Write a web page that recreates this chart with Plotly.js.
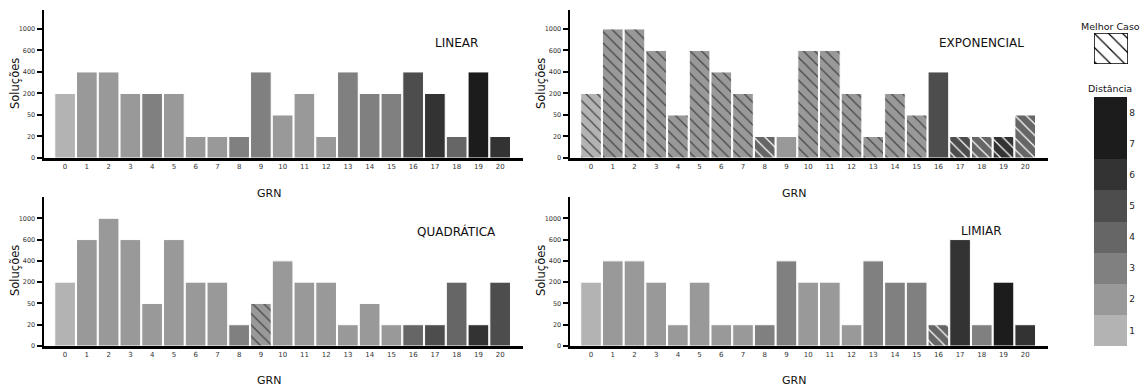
<!DOCTYPE html>
<html>
<head>
<meta charset="utf-8">
<script src="https://cdn.plot.ly/plotly-3.0.1.min.js"></script>
<style>html,body{margin:0;padding:0;background:#fff}#chart{width:1146px;height:388px}</style>
</head>
<body>
<div id="chart"></div>
<script>
// ---- data ----
const grn = [0,1,2,3,4,5,6,7,8,9,10,11,12,13,14,15,16,17,18,19,20];
const levelValues = [0,20,50,200,400,600,1000];
const levelLabels = ['0','20','50','200','400','600','1000'];

const linearValues   = [200,400,400,200,200,200,20,20,20,400,50,200,20,400,200,200,400,200,20,400,20];
const linearDist     = [1,2,2,2,3,2,2,2,3,3,2,2,2,3,3,3,5,6,4,7,6];
const linearBest     = [0,0,0,0,0,0,0,0,0,0,0,0,0,0,0,0,0,0,0,0,0];

const expValues      = [200,1000,1000,600,50,600,400,200,20,20,600,600,200,20,200,50,400,20,20,20,50];
const expDist        = [1,2,2,2,2,2,2,2,4,2,2,2,2,2,2,2,5,5,4,6,4];
const expBest        = [1,1,1,1,1,1,1,1,1,0,1,1,1,1,1,1,0,1,1,1,1];

const quadValues     = [200,600,1000,600,50,600,200,200,20,50,400,200,200,20,50,20,20,20,200,20,200];
const quadDist       = [1,2,2,2,2,2,2,2,3,2,2,2,2,2,2,2,4,5,4,6,5];
const quadBest       = [0,0,0,0,0,0,0,0,0,1,0,0,0,0,0,0,0,0,0,0,0];

const limValues      = [200,400,400,200,20,200,20,20,20,400,200,200,20,400,200,200,20,600,20,200,20];
const limDist        = [1,2,2,2,2,2,2,2,3,3,2,2,2,3,3,3,4,6,3,7,6];
const limBest        = [0,0,0,0,0,0,0,0,0,0,0,0,0,0,0,0,1,0,0,0,0];

const distLabels = ['1','2','3','4','5','6','7','8'];
const distColors = ['#b3b3b3','#999999','#808080','#666666','#4d4d4d','#333333','#1c1c1c','#1c1c1c'];

const panelTitles = ['LINEAR','EXPONENCIAL','QUADRÁTICA','LIMIAR'];
// ---- end data ----

const FONT = 'DejaVu Sans, sans-serif';
const W = 1146, H = 388;
const px = x => x / W;
const py = y => 1 - y / H;

function barTrace(vals, dist, best, ax) {
  return {
    type: 'bar',
    x: grn,
    y: vals.map(v => levelValues.indexOf(v)),
    width: 0.95,
    xaxis: 'x' + ax, yaxis: 'y' + ax,
    marker: {
      color: dist.map(d => distColors[d - 1]),
      line: {color: '#ffffff', width: 1},
      pattern: {
        shape: best.map(b => b ? '\\' : ''),
        fillmode: 'overlay',
        fgcolor: '#000000',
        fgopacity: 1,
        size: 8,
        solidity: 0.15
      }
    },
    hoverinfo: 'x+y',
    showlegend: false
  };
}

const data = [
  barTrace(linearValues, linearDist, linearBest, ''),
  barTrace(expValues, expDist, expBest, '2'),
  barTrace(quadValues, quadDist, quadBest, '3'),
  barTrace(limValues, limDist, limBest, '4'),
  // legend swatch: "Melhor Caso"
  {
    type: 'bar', x: [0], y: [1], width: 1, xaxis: 'x5', yaxis: 'y5',
    marker: {color: '#ffffff', line: {color: '#000000', width: 1.5},
      pattern: {shape: '\\', fillmode: 'overlay', fgcolor: '#000000', fgopacity: 1, size: 10, solidity: 0.12}},
    hoverinfo: 'skip', showlegend: false
  },
  // colorbar: "Distância"
  {
    type: 'scatter', mode: 'markers', x: [null], y: [null], xaxis: 'x5', yaxis: 'y5',
    marker: {
      color: [1], cmin: 0.5, cmax: 8.5,
      colorscale: (function(){
        const cs = [];
        distColors.forEach((c, i) => { cs.push([i / 8, c]); cs.push([(i + 1) / 8, c]); });
        return cs;
      })(),
      showscale: true,
      colorbar: {
        x: px(1094), xanchor: 'left', xpad: 0, ypad: 0,
        y: py(221.5), yanchor: 'middle',
        len: 249 / H, lenmode: 'fraction',
        thickness: 33, thicknessmode: 'pixels',
        outlinewidth: 0,
        tickmode: 'array', tickvals: [1,2,3,4,5,6,7,8], ticktext: distLabels,
        ticks: '', tickfont: {family: FONT, size: 9, color: '#222'}
      }
    },
    hoverinfo: 'skip', showlegend: false
  }
];

const leftDom = [px(44), px(523)];
const rightDom = [px(570), px(1048)];
const topDom = [py(158), py(10)];
const botDom = [py(346), py(197)];

function xax(dom, anchor) {
  return {
    domain: dom, anchor: anchor, range: [-0.97, 21.05],
    tickmode: 'array', tickvals: grn, ticktext: grn.map(String),
    tickfont: {family: FONT, size: 7, color: '#333'},
    ticks: '', showline: true, linecolor: '#000', linewidth: 2.5,
    showgrid: false, zeroline: false, fixedrange: true
  };
}
function yax(dom, anchor, top) {
  return {
    domain: dom, anchor: anchor, range: [0, top],
    tickmode: 'array', tickvals: [0,1,2,3,4,5,6], ticktext: levelLabels,
    tickfont: {family: FONT, size: 6.5, color: '#333'},
    ticks: 'outside', ticklen: 5, tickwidth: 2, tickcolor: '#000',
    showline: true, linecolor: '#000', linewidth: 2.5,
    showgrid: false, zeroline: false, fixedrange: true
  };
}

const ann = [];
function txt(x, y, t, size, extra) {
  ann.push(Object.assign({xref: 'paper', yref: 'paper', x: px(x), y: py(y), text: t,
    showarrow: false, xanchor: 'center', yanchor: 'middle',
    font: {family: FONT, size: size, color: '#111'}}, extra || {}));
}
txt(456, 43, panelTitles[0], 12);
txt(981, 43, panelTitles[1], 12);
txt(456, 231, panelTitles[2], 12);
txt(981, 231, panelTitles[3], 12);
txt(269, 193, 'GRN', 11);
txt(794, 193, 'GRN', 11);
txt(269, 380, 'GRN', 11);
txt(794, 380, 'GRN', 11);
txt(15, 84, 'Soluções', 11.5, {textangle: -90});
txt(541, 84, 'Soluções', 11.5, {textangle: -90});
txt(15, 271, 'Soluções', 11.5, {textangle: -90});
txt(541, 271, 'Soluções', 11.5, {textangle: -90});
txt(1110, 27, 'Melhor Caso', 9.5);
txt(1110, 89, 'Distância', 9.5);

const layout = {
  width: W, height: H,
  margin: {l: 0, r: 0, t: 0, b: 0},
  paper_bgcolor: '#fff', plot_bgcolor: 'rgba(0,0,0,0)',
  font: {family: FONT},
  bargap: 0.05,
  showlegend: false,
  xaxis: xax(leftDom, 'y'),   yaxis: yax(topDom, 'x', 6.88),
  xaxis2: xax(rightDom, 'y2'), yaxis2: yax(topDom, 'x2', 6.88),
  xaxis3: xax(leftDom, 'y3'), yaxis3: yax(botDom, 'x3', 7.0),
  xaxis4: xax(rightDom, 'y4'), yaxis4: yax(botDom, 'x4', 7.0),
  xaxis5: {domain: [px(1094), px(1128)], anchor: 'y5', range: [-0.5, 0.5], visible: false, fixedrange: true},
  yaxis5: {domain: [py(64), py(33)], anchor: 'x5', range: [0, 1], visible: false, fixedrange: true},
  annotations: ann
};

Plotly.newPlot('chart', data, layout, {displayModeBar: false, staticPlot: true});
</script>
</body>
</html>
